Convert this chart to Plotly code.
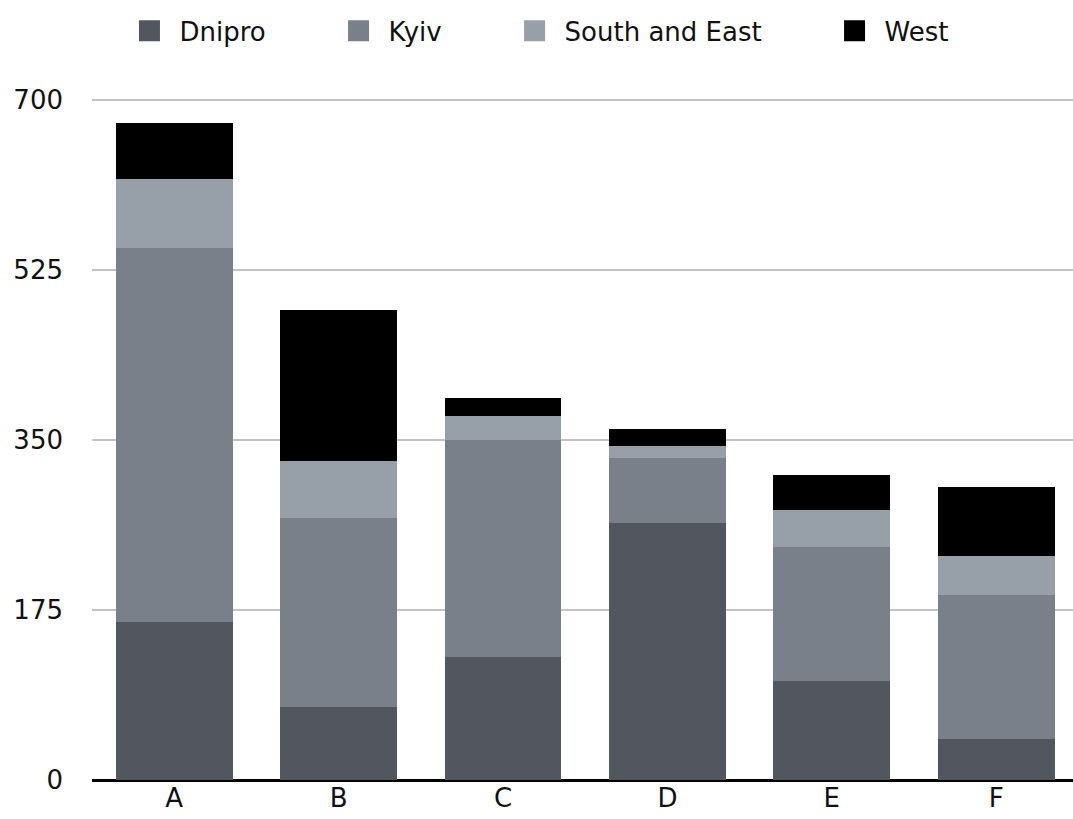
import plotly.graph_objects as go

categories = ["A", "B", "C", "D", "E", "F"]
dnipro = [163, 75, 127, 265, 102, 42]
kyiv = [385, 195, 223, 66, 138, 148]
south_east = [71, 58, 25, 13, 38, 41]
west = [57, 156, 18, 17, 36, 71]
y_ticks = [0, 175, 350, 525, 700]

series = [
    ("Dnipro", dnipro, "#52575f"),
    ("Kyiv", kyiv, "#7a808a"),
    ("South and East", south_east, "#97a0a9"),
    ("West", west, "#000000"),
]

FONT = "DejaVu Sans"
PAD = "\u00a0" * 7  # trailing space after each legend label

fig = go.Figure()
for name, vals, color in series:
    fig.add_trace(go.Bar(
        x=categories, y=vals, name=name, marker=dict(color=color, line=dict(width=0)),
        showlegend=False,
    ))
    # legend entry with a larger square swatch
    fig.add_trace(go.Scatter(
        x=[None], y=[None], mode="markers", name=name + PAD,
        marker=dict(symbol="square", size=16, color=color, line=dict(color=color, width=5)),
        showlegend=True,
    ))

fig.update_layout(
    width=1073, height=819,
    barmode="stack", bargap=0.29,
    plot_bgcolor="white", paper_bgcolor="white",
    margin=dict(l=92, r=0, t=95, b=39),
    font=dict(family=FONT, size=26, color="#111111"),
    legend=dict(orientation="h", x=0.028, xanchor="left", y=0.991, yref="container",
                yanchor="top", itemwidth=50, font=dict(size=26), itemsizing="trace",
                traceorder="normal"),
)
fig.update_xaxes(range=[-0.5, 5.467], showgrid=False, ticks="", tickfont=dict(size=26))
fig.update_yaxes(range=[0, 705], tickvals=y_ticks, showgrid=True, gridcolor="#c3c3c3",
                 gridwidth=2, zeroline=True, zerolinecolor="#000000", zerolinewidth=3,
                 ticks="", ticklabelstandoff=28, tickfont=dict(size=26))

fig.write_html("out.html")
